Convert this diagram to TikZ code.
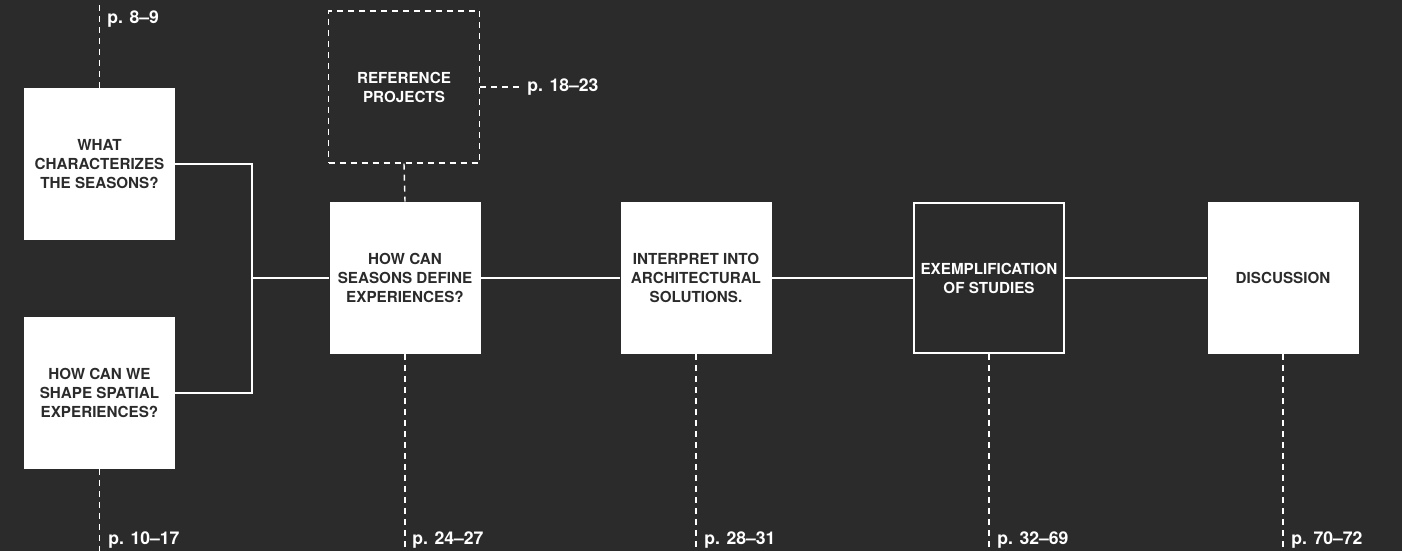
\documentclass[tikz,border=0pt]{standalone}
\usepackage{fontspec}
\setmainfont{TeX Gyre Heros}
\usepackage{xcolor}
\usepackage{tikz}
\usetikzlibrary{positioning}

\definecolor{bg}{HTML}{2B2B2B}
\definecolor{ink}{HTML}{2B2B2B}

\tikzset{
	stage/.style={rectangle, fill=white, text=ink, minimum width=75.5pt, minimum height=76pt, inner sep=0pt, align=center, font=\fontsize{7.6}{9.5}\selectfont\bfseries},
	openstage/.style={stage, fill=bg, draw=white, line width=1pt, text=white, minimum width=75pt, minimum height=75pt},
	refstage/.style={stage, fill=bg, draw=white, line width=0.7pt, dash pattern=on 3pt off 2.5pt, text=white},
	link/.style={draw=white, line width=1pt},
	lead/.style={draw=white, line width=0.7pt, dash pattern=on 3pt off 2.5pt},
	pages/.style={text=white, anchor=west, inner sep=0pt, font=\fontsize{8.8}{10}\selectfont\bfseries}
}

\begin{document}
\begin{tikzpicture}[x=0.5pt, y=-0.5pt]
		\fill[bg] (0,0) rectangle (1402,551);
		\useasboundingbox (0,0) rectangle (1402,551);
		%
		\node[stage] (Q1) at (99.5,164) {WHAT\\CHARACTERIZES\\THE SEASONS?};
		\node[stage] (Q2) at (99.5,392.5) {HOW CAN WE\\SHAPE SPATIAL\\EXPERIENCES?};
		\node[refstage] (R) at (404,87) {REFERENCE\\PROJECTS};
		\node[stage] (S1) at (405,278) {HOW CAN\\SEASONS DEFINE\\EXPERIENCES?};
		\node[stage] (S2) at (696,278) {INTERPRET INTO\\ARCHITECTURAL\\SOLUTIONS.};
		\node[openstage] (S3) at (989,278) {EXEMPLIFICATION\\OF STUDIES};
		\node[stage] (S4) at (1283,278) {DISCUSSION};
		%
		\coordinate (J) at (252,278);
		\coordinate (t1) at (99.5,0);
		\coordinate (t2) at (99.5,551);
		\coordinate (tR) at (520,87);
		\coordinate (t3) at (405,551);
		\coordinate (t4) at (696,551);
		\coordinate (t5) at (989,551);
		\coordinate (t6) at (1283,551);
		%
		\node[pages] (p1) at (107,19) {p. 8–9};
		\node[pages] (p2) at (108,540) {p. 10–17};
		\node[pages] (pR) at (527,87) {p. 18–23};
		\node[pages] (p3) at (412,540) {p. 24–27};
		\node[pages] (p4) at (704,540) {p. 28–31};
		\node[pages] (p5) at (997,540) {p. 32–69};
		\node[pages] (p6) at (1291,540) {p. 70–72};
		%
		\draw[link] (Q1.east) -| (J);
		\draw[link] (Q2.east) -| (J);
		\draw[link] (J) -- (S1.west);
		\draw[link] (S1) -- (S2) -- (S3) -- (S4);
		%
		\draw[lead] (Q1.north) -- (t1);
		\draw[lead] (Q2.south) -- (t2);
		\draw[lead] (R.east) -- (tR);
		\draw[lead] (R.south) -- (S1.north);
		\draw[lead] (S1.south) -- (t3);
		\draw[lead] (S2.south) -- (t4);
		\draw[lead] (S3.south) -- (t5);
		\draw[lead] (S4.south) -- (t6);
\end{tikzpicture}
\end{document}
